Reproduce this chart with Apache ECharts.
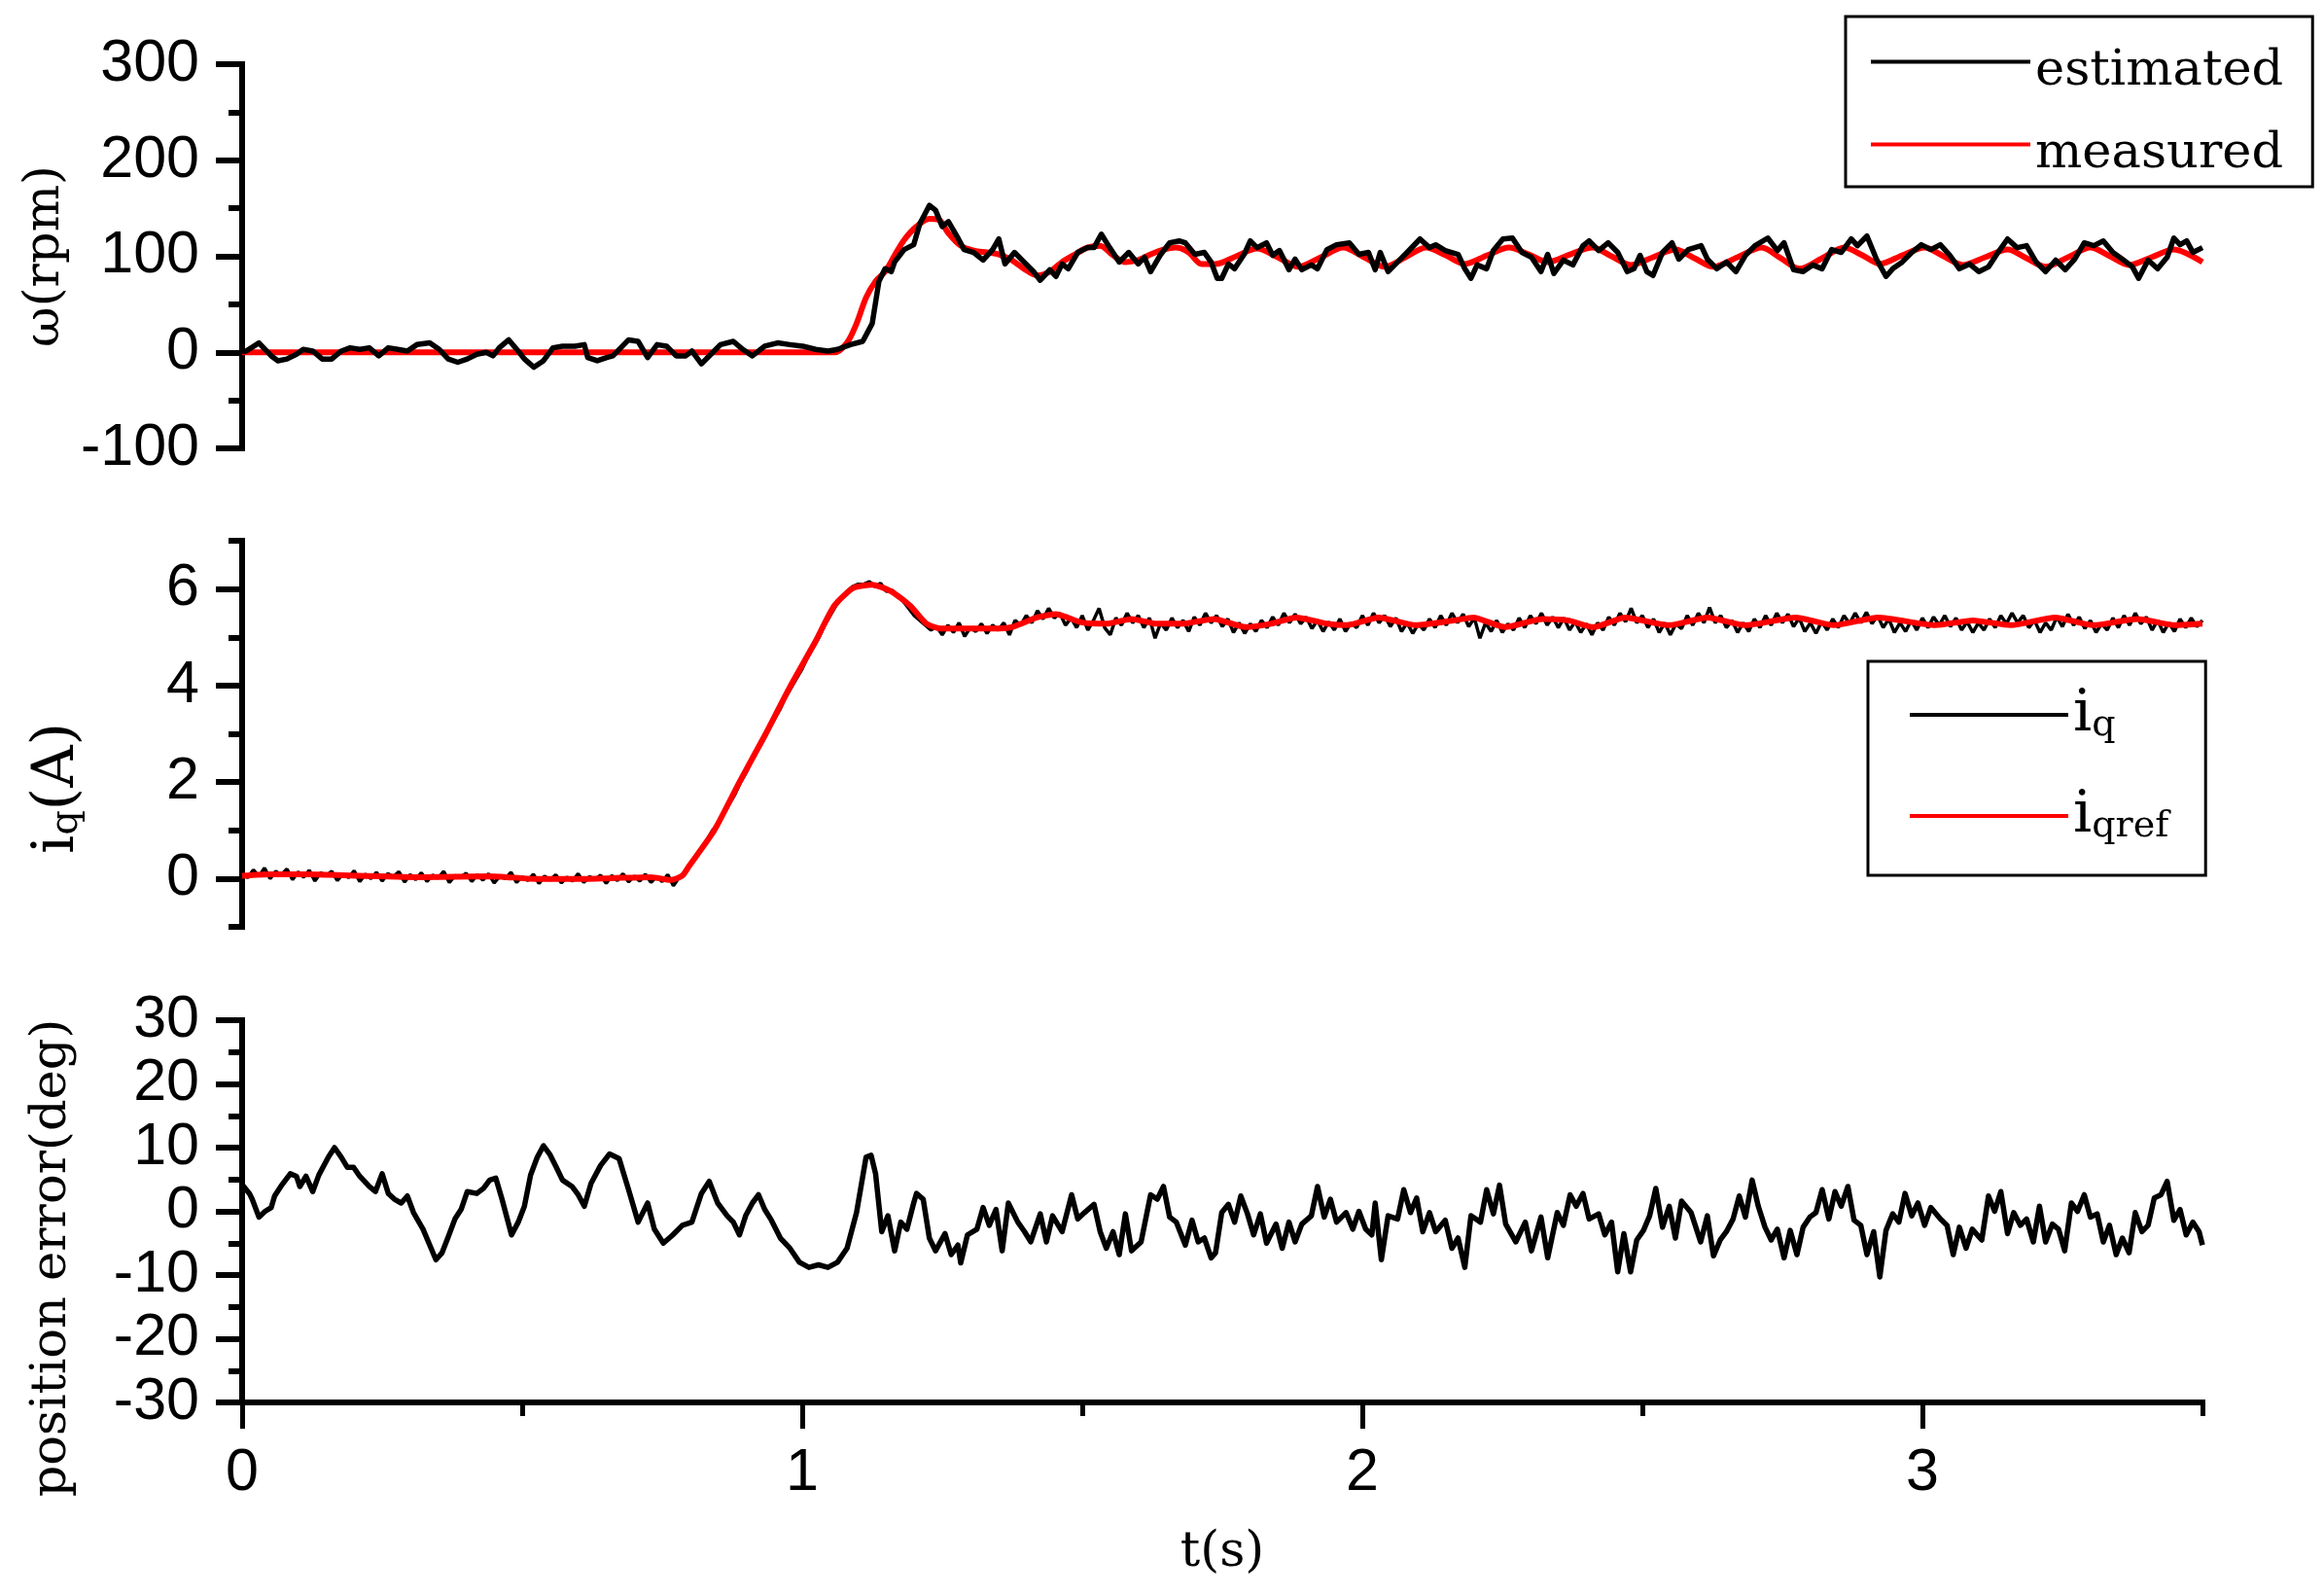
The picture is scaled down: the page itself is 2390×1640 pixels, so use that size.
<!DOCTYPE html>
<html><head><meta charset="utf-8">
<script src="https://cdn.jsdelivr.net/npm/echarts@6/dist/echarts.min.js"></script>
<style>html,body{margin:0;padding:0;background:#fff}#c{width:2390px;height:1640px}</style>
</head><body><div id="c"></div>
<script>
// ---------- data ----------
// top panel: speed (rpm), [t(s), value]
const speedEstimated = [[0,1],[0.007,1.3],[0.030,9.8],[0.052,-3.7],[0.064,-8.8],[0.080,-7],[0.097,-2],[0.109,3],[0.126,1.3],[0.143,-7],[0.160,-7],[0.177,1.3],[0.193,4.7],[0.210,3],[0.227,4.7],[0.244,-3.7],[0.261,4.7],[0.278,3],[0.295,1.3],[0.312,8],[0.335,9.8],[0.352,3],[0.368,-7],[0.385,-10.4],[0.402,-7],[0.419,-2],[0.436,0],[0.448,-3.7],[0.459,4.7],[0.476,13],[0.493,1.3],[0.504,-7],[0.521,-15.5],[0.538,-8.8],[0.555,4.7],[0.572,6.4],[0.594,6.4],[0.611,8],[0.617,-5.4],[0.634,-8.8],[0.651,-5.4],[0.662,-3.7],[0.679,6.4],[0.690,13],[0.707,11.4],[0.724,-5.4],[0.741,8],[0.758,6.4],[0.775,-3.7],[0.792,-3.7],[0.803,1.3],[0.820,-12],[0.837,-2],[0.854,8],[0.877,11.4],[0.894,3],[0.911,-3.7],[0.933,6.4],[0.956,9.8],[0.978,8],[1.001,6.4],[1.024,3],[1.046,1.3],[1.063,3],[1.086,8],[1.108,11.4],[1.125,30],[1.137,74],[1.148,87],[1.159,84],[1.165,94],[1.182,107],[1.199,112],[1.210,134],[1.227,153],[1.238,148],[1.250,131],[1.261,136],[1.278,119],[1.289,107],[1.306,104],[1.323,96],[1.340,107],[1.351,118],[1.362,92],[1.379,104],[1.396,94],[1.413,84],[1.425,75],[1.442,86],[1.453,79],[1.464,92],[1.475,87],[1.492,104],[1.509,109],[1.521,109],[1.534,123],[1.549,109],[1.566,94],[1.583,104],[1.600,92],[1.611,99],[1.622,84],[1.639,101],[1.656,114],[1.673,116],[1.684,114],[1.701,102],[1.718,104],[1.730,94],[1.741,77],[1.749,77],[1.761,92],[1.772,87],[1.789,102],[1.800,116],[1.812,109],[1.829,114],[1.840,101],[1.852,106],[1.869,86],[1.880,97],[1.892,86],[1.909,91],[1.920,87],[1.937,107],[1.954,112],[1.977,114],[1.994,102],[2.011,104],[2.023,86],[2.032,104],[2.046,84],[2.063,94],[2.080,104],[2.103,118],[2.120,109],[2.131,112],[2.148,106],[2.171,102],[2.183,87],[2.194,77],[2.205,91],[2.222,87],[2.234,106],[2.251,118],[2.268,119],[2.285,104],[2.302,99],[2.319,84],[2.331,102],[2.342,82],[2.359,96],[2.376,91],[2.394,111],[2.405,116],[2.422,106],[2.439,114],[2.456,104],[2.473,84],[2.485,87],[2.496,101],[2.508,84],[2.519,80],[2.536,104],[2.553,114],[2.565,97],[2.582,107],[2.605,111],[2.616,97],[2.633,87],[2.650,94],[2.667,84],[2.684,101],[2.701,111],[2.724,119],[2.741,106],[2.753,114],[2.770,86],[2.787,84],[2.804,91],[2.821,87],[2.838,107],[2.855,104],[2.873,118],[2.884,111],[2.901,121],[2.918,97],[2.935,79],[2.947,87],[2.964,94],[2.981,104],[2.998,112],[3.015,107],[3.032,112],[3.049,101],[3.066,87],[3.084,92],[3.101,84],[3.118,89],[3.135,104],[3.152,118],[3.169,109],[3.186,111],[3.203,94],[3.220,84],[3.238,96],[3.255,86],[3.272,97],[3.289,114],[3.306,111],[3.323,116],[3.340,104],[3.357,97],[3.375,89],[3.386,77],[3.403,96],[3.420,87],[3.437,99],[3.449,119],[3.460,112],[3.472,116],[3.483,104],[3.500,109]];
const speedMeasured = [[0,0],[1.058,0],[1.08,10],[1.097,30],[1.114,57],[1.131,74],[1.148,84],[1.165,101],[1.182,117],[1.204,131],[1.227,139],[1.244,138],[1.261,124],[1.283,111],[1.306,106],[1.329,104],[1.351,102],[1.374,96],[1.396,87],[1.419,80],[1.442,84],[1.464,94],[1.487,102],[1.509,109],[1.532,111],[1.555,101],[1.577,94],[1.600,96],[1.622,102],[1.645,107],[1.667,109],[1.690,104],[1.713,92],[1.738,92],[1.775,100],[1.812,108],[1.849,99],[1.886,89],[1.926,99],[1.966,109],[2.003,99],[2.040,89],[2.077,99],[2.114,109],[2.149,101],[2.183,92],[2.223,101],[2.262,109],[2.297,102],[2.331,94],[2.371,102],[2.411,109],[2.445,100],[2.479,91],[2.519,99],[2.559,107],[2.593,98],[2.627,89],[2.670,99],[2.713,109],[2.747,98],[2.781,87],[2.821,98],[2.861,109],[2.893,101],[2.924,92],[2.964,101],[3.004,109],[3.038,100],[3.072,91],[3.112,99],[3.152,107],[3.186,98],[3.220,89],[3.260,99],[3.300,109],[3.335,100],[3.369,91],[3.409,99],[3.449,107],[3.500,94]];

// middle panel: q-axis current (A)
const iqStep = 0.01; // sample spacing of the measured current (s)
const iqMeasured = [0.12,0.02,0.18,0.05,0.22,0.0,0.15,0.08,0.2,-0.02,
0.14,0.03,0.17,-0.05,0.12,0.06,0.15,-0.04,0.1,0.02,
0.16,-0.06,0.09,0.0,0.13,-0.05,0.1,0.04,0.14,-0.07,
0.08,-0.02,0.12,-0.06,0.07,0.01,0.15,-0.08,0.06,0.03,
0.11,-0.06,0.08,-0.03,0.1,-0.09,0.05,0.0,0.13,-0.08,
0.04,-0.04,0.09,-0.1,0.05,-0.03,0.08,-0.09,0.03,-0.05,
0.1,-0.08,0.04,-0.02,0.07,-0.1,0.06,-0.04,0.1,-0.07,
0.05,-0.05,0.09,-0.08,0.04,-0.06,0.08,-0.15,0.02,0.12,
0.3,0.45,0.6,0.8,1.0,1.15,1.35,1.55,1.75,2.0,
2.2,2.45,2.65,2.85,3.1,3.3,3.5,3.75,3.95,4.15,
4.35,4.6,4.8,5.0,5.25,5.45,5.65,5.8,5.95,6.05,
6.1,6.1,6.15,6.05,6.12,5.95,5.98,5.85,5.75,5.6,
5.45,5.35,5.25,5.15,5.22,5.05,5.25,5.1,5.3,5.02,
5.2,5.12,5.28,5.08,5.25,5.15,5.3,5.05,5.35,5.25,
5.45,5.3,5.55,5.38,5.6,5.4,5.5,5.25,5.4,5.2,
5.45,5.15,5.35,5.6,5.2,5.05,5.4,5.25,5.5,5.3,
5.45,5.2,5.4,4.98,5.3,5.15,5.4,5.2,5.35,5.12,
5.42,5.25,5.5,5.3,5.45,5.22,5.38,5.1,5.3,5.08,
5.28,5.12,5.35,5.2,5.42,5.25,5.5,5.3,5.48,5.28,
5.42,5.18,5.35,5.12,5.32,5.15,5.38,5.12,5.3,5.2,
5.45,5.25,5.5,5.3,5.45,5.22,5.4,5.12,5.3,5.08,
5.28,5.15,5.38,5.2,5.45,5.25,5.5,5.3,5.48,5.22,
5.4,4.98,5.3,5.12,5.35,5.1,5.28,5.15,5.4,5.2,
5.45,5.28,5.5,5.25,5.42,5.2,5.4,5.15,5.32,5.1,
5.28,5.05,5.3,5.15,5.42,5.25,5.5,5.32,5.6,5.3,
5.45,5.2,5.38,5.1,5.3,5.05,5.28,5.18,5.45,5.25,
5.5,5.3,5.62,5.3,5.45,5.2,5.35,5.1,5.3,5.12,
5.38,5.2,5.45,5.25,5.5,5.3,5.48,5.22,5.4,5.12,
5.3,5.08,5.32,5.15,5.38,5.2,5.45,5.28,5.5,5.3,
5.52,5.28,5.45,5.2,5.38,5.1,5.3,5.12,5.35,5.15,
5.4,5.2,5.42,5.25,5.45,5.22,5.4,5.15,5.32,5.1,
5.3,5.15,5.38,5.2,5.45,5.28,5.5,5.3,5.45,5.2,
5.35,5.1,5.3,5.15,5.42,5.22,5.48,5.25,5.42,5.18,
5.35,5.1,5.28,5.15,5.4,5.2,5.45,5.25,5.5,5.28,
5.42,5.15,5.35,5.1,5.3,5.12,5.38,5.2,5.4,5.22,
5.35];
const iqReference = [[0,0.06],[0.05,0.09],[0.12,0.09],[0.21,0.06],[0.32,0.03],[0.44,0.05],[0.53,-0.01],[0.59,-0.01],[0.66,0.01],[0.73,0.03],[0.765,-0.03],[0.786,0.06],[0.798,0.26],[0.843,1.0],[0.888,2.0],[0.933,2.96],[0.978,3.97],[1.023,4.9],[1.057,5.65],[1.091,6.02],[1.125,6.09],[1.159,5.95],[1.193,5.65],[1.222,5.28],[1.249,5.18],[1.34,5.18],[1.374,5.21],[1.419,5.41],[1.453,5.48],[1.498,5.31],[1.543,5.28],[1.588,5.38],[1.633,5.28],[1.679,5.28],[1.735,5.38],[1.792,5.21],[1.837,5.28],[1.882,5.41],[1.938,5.28],[1.972,5.25],[2.029,5.41],[2.096,5.25],[2.164,5.35],[2.198,5.41],[2.255,5.21],[2.322,5.38],[2.367,5.35],[2.413,5.21],[2.469,5.41],[2.548,5.25],[2.616,5.41],[2.684,5.25],[2.774,5.41],[2.842,5.25],[2.921,5.41],[3.023,5.25],[3.09,5.35],[3.158,5.25],[3.237,5.41],[3.305,5.25],[3.384,5.38],[3.452,5.25],[3.5,5.28]];

// bottom panel: position error (deg)
const positionError = [[0.001,4.1],[0.013,2.8],[0.018,1.9],[0.030,-0.9],[0.041,0.0],[0.052,0.6],[0.058,2.4],[0.069,3.9],[0.086,5.9],[0.097,5.5],[0.103,3.9],[0.114,5.5],[0.126,3.1],[0.137,5.7],[0.154,8.5],[0.165,10.0],[0.177,8.5],[0.188,6.9],[0.199,6.9],[0.210,5.5],[0.227,3.9],[0.238,3.1],[0.250,5.9],[0.261,2.8],[0.272,1.9],[0.284,1.3],[0.295,2.4],[0.306,-0.2],[0.323,-2.8],[0.335,-5.3],[0.346,-7.6],[0.357,-6.5],[0.368,-4.0],[0.380,-1.2],[0.391,0.3],[0.402,3.1],[0.419,2.8],[0.431,3.6],[0.442,4.9],[0.453,5.2],[0.464,1.9],[0.481,-3.7],[0.493,-1.7],[0.504,0.8],[0.515,5.7],[0.527,8.5],[0.538,10.3],[0.549,9.0],[0.561,6.9],[0.572,4.9],[0.589,3.9],[0.600,2.6],[0.611,0.8],[0.623,4.4],[0.640,7.2],[0.656,9.0],[0.673,8.3],[0.690,3.4],[0.707,-1.7],[0.724,1.3],[0.736,-2.8],[0.752,-5.0],[0.769,-3.7],[0.786,-2.2],[0.803,-1.7],[0.820,2.8],[0.834,4.7],[0.849,1.3],[0.866,-0.7],[0.877,-1.7],[0.888,-3.7],[0.899,-0.7],[0.911,1.3],[0.922,2.6],[0.933,0.3],[0.945,-1.4],[0.961,-4.2],[0.978,-5.8],[0.995,-8.0],[1.012,-8.8],[1.029,-8.4],[1.046,-8.8],[1.063,-8.0],[1.080,-5.8],[1.097,-0.2],[1.114,8.5],[1.123,8.8],[1.131,5.9],[1.142,-3.2],[1.153,-0.7],[1.165,-6.2],[1.176,-1.7],[1.187,-2.8],[1.199,1.3],[1.204,2.8],[1.216,1.9],[1.227,-4.2],[1.238,-6.2],[1.255,-3.5],[1.266,-6.8],[1.278,-5.3],[1.283,-8.1],[1.295,-3.7],[1.312,-2.8],[1.323,0.6],[1.334,-2.2],[1.346,0.3],[1.357,-6.2],[1.368,1.3],[1.385,-1.7],[1.397,-3.2],[1.408,-4.8],[1.425,-0.4],[1.436,-4.8],[1.447,-0.7],[1.464,-3.2],[1.481,2.6],[1.492,-1.2],[1.504,-0.2],[1.521,1.1],[1.532,-3.2],[1.543,-5.8],[1.555,-3.2],[1.566,-6.8],[1.577,-0.4],[1.588,-6.2],[1.605,-4.8],[1.622,2.6],[1.634,1.9],[1.645,3.9],[1.656,-0.9],[1.668,-1.7],[1.684,-5.3],[1.696,-1.4],[1.707,-4.8],[1.718,-4.2],[1.730,-7.3],[1.738,-6.5],[1.749,-0.2],[1.761,1.1],[1.772,-1.7],[1.783,2.4],[1.795,-0.4],[1.806,-3.7],[1.818,-0.4],[1.829,-5.0],[1.846,-2.0],[1.857,-5.8],[1.869,-1.7],[1.880,-4.8],[1.892,-2.0],[1.909,-0.7],[1.920,3.9],[1.932,-0.9],[1.943,1.9],[1.954,-1.7],[1.971,-0.2],[1.983,-2.8],[1.994,0.0],[2.006,-2.8],[2.017,-3.7],[2.023,1.3],[2.034,-7.6],[2.046,-0.7],[2.063,-1.2],[2.074,3.4],[2.086,-0.2],[2.097,2.1],[2.108,-3.2],[2.120,-0.2],[2.131,-3.2],[2.148,-1.4],[2.160,-5.8],[2.171,-4.2],[2.183,-8.8],[2.194,-0.7],[2.211,-1.7],[2.222,3.4],[2.234,-0.4],[2.245,4.1],[2.256,-2.0],[2.274,-4.8],[2.291,-1.7],[2.302,-6.2],[2.319,-0.9],[2.331,-7.3],[2.348,-0.2],[2.359,-2.2],[2.371,2.6],[2.382,0.8],[2.394,2.8],[2.405,-1.2],[2.422,-0.4],[2.433,-3.7],[2.445,-1.7],[2.456,-9.5],[2.467,-3.5],[2.479,-9.5],[2.490,-4.5],[2.502,-3.0],[2.513,-0.7],[2.524,3.6],[2.536,-2.5],[2.548,0.8],[2.559,-4.2],[2.570,1.6],[2.587,-0.2],[2.604,-4.8],[2.616,-0.7],[2.627,-7.0],[2.639,-4.5],[2.650,-3.2],[2.662,-1.2],[2.673,2.4],[2.684,-0.9],[2.696,4.9],[2.707,0.8],[2.719,-2.5],[2.730,-4.5],[2.741,-2.8],[2.753,-7.3],[2.764,-3.0],[2.776,-6.8],[2.787,-2.5],[2.799,-0.9],[2.810,-0.2],[2.821,3.4],[2.833,-1.2],[2.844,3.1],[2.855,0.8],[2.867,3.9],[2.878,-1.4],[2.890,-2.2],[2.901,-6.8],[2.913,-3.2],[2.924,-10.3],[2.935,-3.0],[2.947,-0.4],[2.958,-1.7],[2.969,2.8],[2.981,-0.7],[2.992,1.3],[3.004,-2.2],[3.015,0.6],[3.032,-1.2],[3.044,-2.2],[3.055,-6.8],[3.066,-2.5],[3.078,-5.8],[3.089,-2.8],[3.106,-4.5],[3.118,2.4],[3.129,0.0],[3.140,3.1],[3.152,-3.5],[3.163,-0.2],[3.175,-2.2],[3.186,-1.2],[3.198,-4.8],[3.209,0.8],[3.220,-4.8],[3.232,-2.0],[3.243,-2.8],[3.254,-6.2],[3.266,1.3],[3.277,0.0],[3.289,2.6],[3.300,-0.9],[3.312,-0.4],[3.323,-4.8],[3.334,-2.2],[3.346,-6.8],[3.357,-4.2],[3.369,-6.5],[3.380,-0.2],[3.392,-3.2],[3.403,-2.2],[3.414,2.1],[3.426,2.6],[3.437,4.7],[3.449,-1.4],[3.460,0.3],[3.471,-3.7],[3.483,-1.7],[3.494,-3.2],[3.500,-5.3]];

// tick values
const timeTicks = [0, 1, 2, 3];
const timeMinorTicks = [0.5, 1.5, 2.5, 3.5];
const speedTicks = [-100, 0, 100, 200, 300];
const speedMinorTicks = [-50, 50, 150, 250];
const currentTicks = [0, 2, 4, 6];
const currentMinorTicks = [-1, 1, 3, 5, 7];
const errorTicks = [-30, -20, -10, 0, 10, 20, 30];
const errorMinorTicks = [-25, -15, -5, 5, 15, 25];

// ---------- chart ----------
const SANS = '"Liberation Sans", Arial, sans-serif';
const SERIF = '"DejaVu Serif", serif';
const BLACK = '#000000', RED = '#ff0000';
const iqData = iqMeasured.map((v, i) => [+(i * iqStep).toFixed(2), v]);

function majorY(grid, min, max, ticks, name, nameGap, nameStyle) {
  return {
    gridIndex: grid, type: 'value', min: min, max: max, position: 'left',
    axisLine: {show: true, onZero: false, lineStyle: {color: BLACK, width: 6, cap: 'square'}},
    axisTick: {show: true, customValues: ticks, length: 27, lineStyle: {color: BLACK, width: 6}},
    axisLabel: {show: true, customValues: ticks, margin: 44, fontFamily: SANS, fontSize: 61, color: BLACK},
    splitLine: {show: false},
    name: name, nameLocation: 'middle', nameGap: nameGap, nameRotate: 90,
    nameTextStyle: Object.assign({fontFamily: SERIF, fontSize: 51, color: BLACK}, nameStyle || {})
  };
}
function minorY(grid, min, max, ticks) {
  return {
    gridIndex: grid, type: 'value', min: min, max: max, position: 'left',
    axisLine: {show: false, onZero: false},
    axisTick: {show: true, customValues: ticks, length: 14, lineStyle: {color: BLACK, width: 6}},
    axisLabel: {show: false}, splitLine: {show: false}
  };
}
function hiddenX(grid) {
  return {gridIndex: grid, type: 'value', min: 0, max: 3.5, show: false, splitLine: {show: false}};
}

const subRich = {
  m: {fontFamily: SERIF, fontSize: 60, lineHeight: 60, verticalAlign: 'top', color: BLACK},
  s: {fontFamily: SERIF, fontSize: 40, lineHeight: 40, verticalAlign: 'bottom', padding: [34, 0, 0, 0], color: BLACK}
};
const legendRich = {
  m: {fontFamily: SERIF, fontSize: 60, lineHeight: 60, verticalAlign: 'top', color: BLACK},
  s: {fontFamily: SERIF, fontSize: 38, lineHeight: 38, verticalAlign: 'bottom', padding: [40, 0, 0, 0], color: BLACK}
};
const legendTextRich = {
  t: {fontFamily: SERIF, fontSize: 51, lineHeight: 56, padding: [20, 0, 0, 0], color: BLACK}
};

const option = {
  animation: false,
  backgroundColor: '#ffffff',
  grid: [
    {left: 249, right: 125, top: 66, height: 395},
    {left: 249, right: 125, top: 556, height: 397},
    {left: 249, right: 125, top: 1049, height: 393}
  ],
  xAxis: [
    hiddenX(0), hiddenX(1),
    {
      gridIndex: 2, type: 'value', min: 0, max: 3.5, position: 'bottom',
      axisLine: {show: true, onZero: false, lineStyle: {color: BLACK, width: 6, cap: 'square'}},
      axisTick: {show: true, customValues: timeTicks, length: 27, lineStyle: {color: BLACK, width: 5}},
      axisLabel: {show: true, customValues: timeTicks, margin: 43, fontFamily: SANS, fontSize: 61, color: BLACK},
      splitLine: {show: false},
      name: 't(s)', nameLocation: 'middle', nameGap: 129,
      nameTextStyle: {fontFamily: SERIF, fontSize: 51, color: BLACK}
    },
    {
      gridIndex: 2, type: 'value', min: 0, max: 3.5, position: 'bottom',
      axisLine: {show: false, onZero: false},
      axisTick: {show: true, customValues: timeMinorTicks, length: 14, lineStyle: {color: BLACK, width: 5}},
      axisLabel: {show: false}, splitLine: {show: false}
    }
  ],
  yAxis: [
    majorY(0, -100, 300, speedTicks, 'ω(rpm)', 169),
    minorY(0, -100, 300, speedMinorTicks),
    majorY(1, -1, 7, currentTicks, '{m|i}{s|q}{m|(A)}', 160, {padding: [0, 112, 0, 0], rich: subRich}),
    minorY(1, -1, 7, currentMinorTicks),
    majorY(2, -30, 30, errorTicks, 'position error(deg)', 170, {padding: [0, 96, 0, 0]}),
    minorY(2, -30, 30, errorMinorTicks)
  ],
  legend: [
    {
      data: ['estimated', 'measured'], orient: 'vertical', left: 1898, top: 17,
      itemWidth: 164, itemHeight: 4, itemGap: 14, padding: [11, 30, 8, 24],
      borderColor: BLACK, borderWidth: 3, backgroundColor: '#ffffff', selectedMode: false,
      lineStyle: {width: 4}, itemStyle: {opacity: 0},
      formatter: function (n) { return '{t|' + n + '}'; },
      textStyle: {fontFamily: SERIF, fontSize: 51, color: BLACK, rich: legendTextRich}
    },
    {
      data: ['iq', 'iqref'], orient: 'vertical', left: 1921, top: 680,
      itemWidth: 163, itemHeight: 4, itemGap: 26, padding: [7, 38, 31, 41],
      borderColor: BLACK, borderWidth: 3, backgroundColor: '#ffffff', selectedMode: false,
      lineStyle: {width: 4}, itemStyle: {opacity: 0},
      formatter: function (n) { return n === 'iq' ? '{m|i}{s|q}' : '{m|i}{s|qref}'; },
      textStyle: {fontFamily: SERIF, fontSize: 60, color: BLACK, rich: legendRich}
    }
  ],
  series: [
    {name: 'measured', type: 'line', xAxisIndex: 0, yAxisIndex: 0, data: speedMeasured,
     symbol: 'none', smooth: 0.3, lineStyle: {color: RED, width: 6}, itemStyle: {color: RED}, z: 2},
    {name: 'estimated', type: 'line', xAxisIndex: 0, yAxisIndex: 0, data: speedEstimated,
     symbol: 'none', lineStyle: {color: BLACK, width: 5.5, join: 'round'}, itemStyle: {color: BLACK}, z: 3},
    {name: 'iq', type: 'line', xAxisIndex: 1, yAxisIndex: 2, data: iqData,
     symbol: 'none', lineStyle: {color: BLACK, width: 3.5}, itemStyle: {color: BLACK}, z: 2},
    {name: 'iqref', type: 'line', xAxisIndex: 1, yAxisIndex: 2, data: iqReference,
     symbol: 'none', smooth: 0.2, lineStyle: {color: RED, width: 6}, itemStyle: {color: RED}, z: 3},
    {name: 'position error', type: 'line', xAxisIndex: 2, yAxisIndex: 4, data: positionError,
     symbol: 'none', lineStyle: {color: BLACK, width: 5.5, join: 'round'}, itemStyle: {color: BLACK}, z: 2}
  ]
};

const chart = echarts.init(document.getElementById('c'), null, {renderer: 'canvas'});
chart.setOption(option);
</script>
</body></html>
